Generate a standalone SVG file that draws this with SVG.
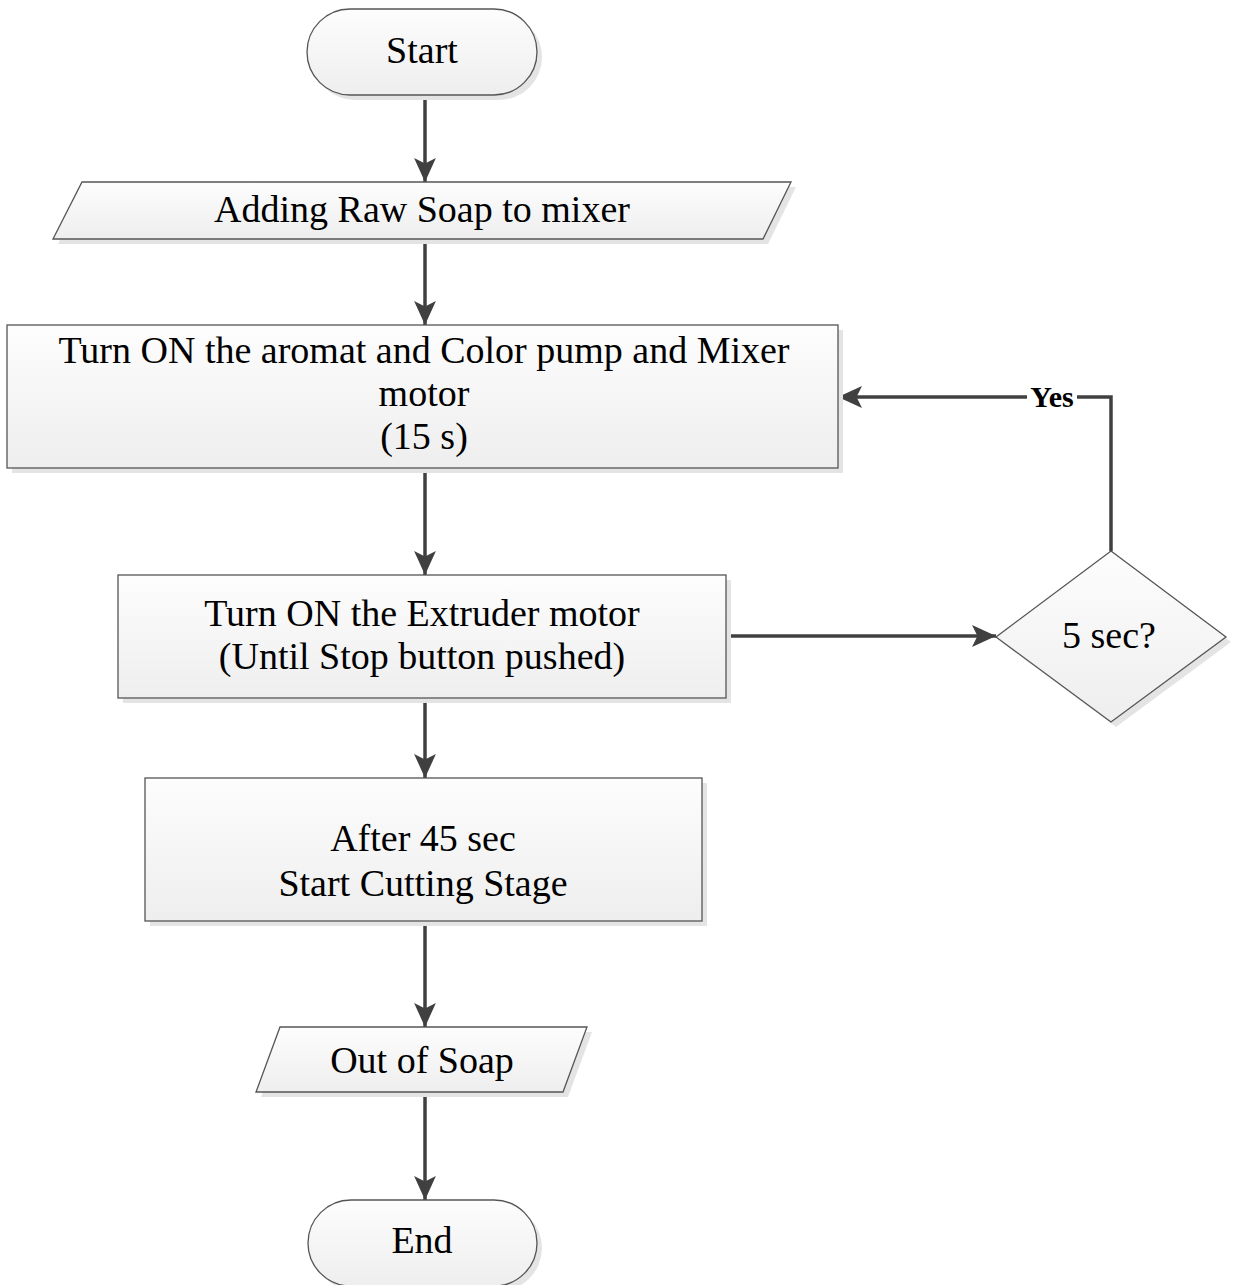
<svg xmlns="http://www.w3.org/2000/svg" width="1235" height="1285" viewBox="0 0 1235 1285">
  <defs>
    <linearGradient id="fillg" x1="0" y1="0" x2="0" y2="1">
      <stop offset="0" stop-color="#fdfdfd"/>
      <stop offset="1" stop-color="#eeeeee"/>
    </linearGradient>
    <marker id="arrow" markerUnits="userSpaceOnUse" markerWidth="24" markerHeight="24" viewBox="0 0 22 20" refX="22" refY="10" orient="auto">
      <path d="M0,0 L22,10 L0,20 L5,10 Z" fill="#404040"/>
    </marker>
    <style>
      .shape { fill: url(#fillg); stroke: #555555; stroke-width: 1.3; }
      .shadow { fill: #e4e4e4; stroke: none; }
      .lbl { font-family: "Liberation Serif", "Times New Roman", serif; font-size: 38px; fill: #000000; text-anchor: middle; }
      .yes { font-family: "Liberation Serif", "Times New Roman", serif; font-size: 30px; font-weight: bold; fill: #000000; text-anchor: middle; }
      .conn { fill: none; stroke: #404040; stroke-width: 3.5; }
    </style>
  </defs>
  <rect width="1235" height="1285" fill="#ffffff"/>

  <g id="connectors">
    <line class="conn" x1="425" y1="95" x2="425" y2="182" marker-end="url(#arrow)"/>
    <line class="conn" x1="425" y1="239" x2="425" y2="325" marker-end="url(#arrow)"/>
    <line class="conn" x1="425" y1="468" x2="425" y2="575" marker-end="url(#arrow)"/>
    <line class="conn" x1="726" y1="636" x2="996" y2="636" marker-end="url(#arrow)"/>
    <polyline class="conn" points="1111,551 1111,397 838,397" marker-end="url(#arrow)"/>
    <line class="conn" x1="425" y1="698" x2="425" y2="778" marker-end="url(#arrow)"/>
    <line class="conn" x1="425" y1="921" x2="425" y2="1027" marker-end="url(#arrow)"/>
    <line class="conn" x1="425" y1="1092" x2="425" y2="1200" marker-end="url(#arrow)"/>
    <rect x="1027" y="384" width="50" height="28" fill="#ffffff"/>
    <text class="yes" x="1052" y="407">Yes</text>
  </g>

  <g id="start">
    <rect class="shadow" x="312" y="14" width="230" height="86" rx="43" ry="43"/>
    <rect class="shape" x="307" y="9" width="230" height="86" rx="43" ry="43"/>
    <text class="lbl" x="422" y="63">Start</text>
  </g>

  <g id="adding">
    <polygon class="shadow" points="87,187 796,187 768,244 58,244"/>
    <polygon class="shape" points="82,182 791,182 763,239 53,239"/>
    <text class="lbl" x="422" y="222">Adding Raw Soap to mixer</text>
  </g>

  <g id="turnon-mixer">
    <rect class="shadow" x="12" y="330" width="831" height="143"/>
    <rect class="shape" x="7" y="325" width="831" height="143"/>
    <text class="lbl" x="424" y="363">Turn ON the aromat and Color pump and Mixer</text>
    <text class="lbl" x="424" y="406">motor</text>
    <text class="lbl" x="424" y="449">(15 s)</text>
  </g>

  <g id="extruder">
    <rect class="shadow" x="123" y="580" width="608" height="123"/>
    <rect class="shape" x="118" y="575" width="608" height="123"/>
    <text class="lbl" x="422" y="626">Turn ON the Extruder motor</text>
    <text class="lbl" x="422" y="669">(Until Stop button pushed)</text>
  </g>

  <g id="decision">
    <polygon class="shadow" points="1116,556 1231,642 1116,727 1001,642"/>
    <polygon class="shape" points="1111,551 1226,637 1111,722 996,637"/>
    <text class="lbl" x="1109" y="648">5 sec?</text>
  </g>

  <g id="cutting">
    <rect class="shadow" x="150" y="783" width="557" height="143"/>
    <rect class="shape" x="145" y="778" width="557" height="143"/>
    <text class="lbl" x="423" y="851">After 45 sec</text>
    <text class="lbl" x="423" y="896">Start Cutting Stage</text>
  </g>

  <g id="out-of-soap">
    <polygon class="shadow" points="285,1032 592,1032 568,1097 261,1097"/>
    <polygon class="shape" points="280,1027 587,1027 563,1092 256,1092"/>
    <text class="lbl" x="422" y="1073">Out of Soap</text>
  </g>

  <g id="end">
    <rect class="shadow" x="313" y="1205" width="229" height="86" rx="43" ry="43"/>
    <rect class="shape" x="308" y="1200" width="229" height="86" rx="43" ry="43"/>
    <text class="lbl" x="422" y="1253">End</text>
  </g>
</svg>
